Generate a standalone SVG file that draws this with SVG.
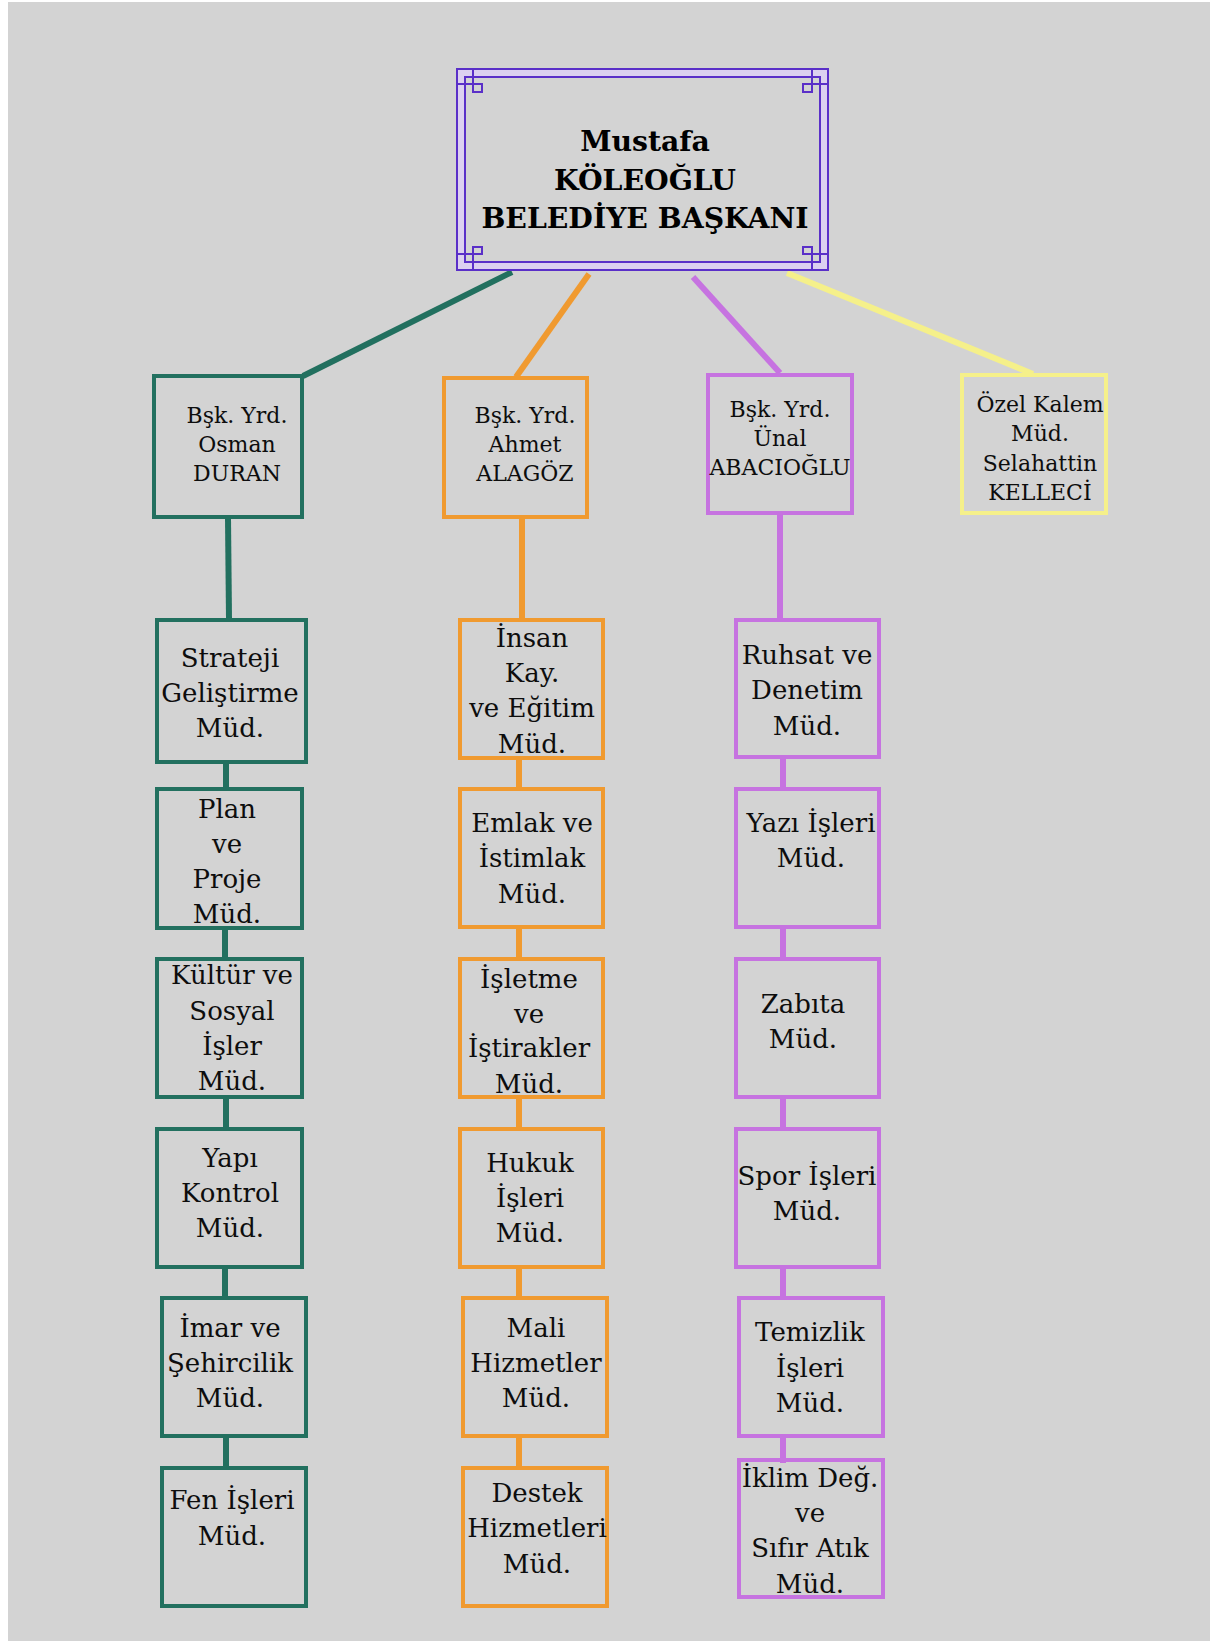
<svg xmlns="http://www.w3.org/2000/svg" width="1210" height="1641" viewBox="0 0 1210 1641">
<style>
text{font-family:"DejaVu Serif","Liberation Serif",serif;fill:#0d0d0d;text-anchor:middle}
.t{font-size:26px}
.v{font-size:22px}
.h{font-size:28.3px;font-weight:bold;fill:#000}
.bx{fill:none;stroke-width:4}
.teal{stroke:#22705f}
.or{stroke:#f09a30}
.pu{stroke:#c673e0}
.ye{stroke:#f5f08a}
.fr{fill:none;stroke:#5a2fc8;stroke-width:2}
.c{stroke-width:6;fill:none}
.c0{stroke-width:6;fill:none}
</style>
<rect x="0" y="0" width="1210" height="1641" fill="#ffffff"/>
<rect x="8" y="2" width="1202" height="1639" fill="#d3d3d3"/>

<g id="connectors">
<line class="c0 teal" x1="512" y1="272" x2="303" y2="376"/>
<line class="c0 or" x1="589" y1="274" x2="516" y2="377"/>
<line class="c0 pu" x1="693" y1="277" x2="780" y2="373"/>
<line class="c0 ye" x1="787" y1="273" x2="1033" y2="374"/>
<line class="c teal" x1="228" y1="518" x2="229" y2="619"/>
<line class="c teal" x1="226" y1="763" x2="226" y2="788"/>
<line class="c teal" x1="225" y1="929" x2="225" y2="958"/>
<line class="c teal" x1="226" y1="1098" x2="226" y2="1128"/>
<line class="c teal" x1="225" y1="1268" x2="225" y2="1297"/>
<line class="c teal" x1="226" y1="1437" x2="226" y2="1467"/>
<line class="c or" x1="522" y1="518" x2="522" y2="619"/>
<line class="c or" x1="519" y1="759" x2="519" y2="788"/>
<line class="c or" x1="519" y1="928" x2="519" y2="958"/>
<line class="c or" x1="519" y1="1098" x2="519" y2="1128"/>
<line class="c or" x1="519" y1="1268" x2="519" y2="1297"/>
<line class="c or" x1="519" y1="1437" x2="519" y2="1467"/>
<line class="c pu" x1="780" y1="515" x2="780" y2="619"/>
<line class="c pu" x1="783" y1="759" x2="783" y2="788"/>
<line class="c pu" x1="783" y1="929" x2="783" y2="958"/>
<line class="c pu" x1="783" y1="1098" x2="783" y2="1128"/>
<line class="c pu" x1="783" y1="1268" x2="783" y2="1297"/>
<line class="c pu" x1="783" y1="1437" x2="783" y2="1463"/>
</g>

<g id="baskan">
<rect x="457" y="69" width="371" height="201" fill="#dcd0f0" stroke="#5a2fc8" stroke-width="2"/>
<rect x="465" y="77" width="355" height="185" fill="#d3d3d3" stroke="#5a2fc8" stroke-width="2"/>
<path class="fr" d="M473 69V92M457 84H482M473 84H482V92H473Z"/>
<path class="fr" d="M812 69V92M828 84H803M812 84H803V92H812Z"/>
<path class="fr" d="M473 270V247M457 254H482M473 254H482V247H473Z"/>
<path class="fr" d="M812 270V247M828 254H803M812 254H803V247H812Z"/>
<text class="h" x="645" y="151">Mustafa</text>
<text class="h" x="645" y="190">KÖLEOĞLU</text>
<text class="h" x="645" y="228">BELEDİYE BAŞKANI</text>
</g>

<g id="osman">
<rect class="bx teal" x="154" y="376" width="148" height="141"/>
<text class="v" x="237" y="423">Bşk. Yrd.</text>
<text class="v" x="237" y="452">Osman</text>
<text class="v" x="237" y="481">DURAN</text>
</g>
<g id="ahmet">
<rect class="bx or" x="444" y="378" width="143" height="139"/>
<text class="v" x="525" y="423">Bşk. Yrd.</text>
<text class="v" x="525" y="452">Ahmet</text>
<text class="v" x="525" y="481">ALAGÖZ</text>
</g>
<g id="unal">
<rect class="bx pu" x="708" y="375" width="144" height="138"/>
<text class="v" x="780" y="417">Bşk. Yrd.</text>
<text class="v" x="780" y="446">Ünal</text>
<text class="v" x="780" y="475">ABACIOĞLU</text>
</g>
<g id="ozel">
<rect class="bx ye" x="962" y="375" width="144" height="138"/>
<text class="v" x="1040" y="412">Özel Kalem</text>
<text class="v" x="1040" y="441">Müd.</text>
<text class="v" x="1040" y="471">Selahattin</text>
<text class="v" x="1040" y="500">KELLECİ</text>
</g>

<g id="strateji">
<rect class="bx teal" x="157" y="620" width="149" height="142"/>
<text class="t" x="230" y="667">Strateji</text>
<text class="t" x="230" y="702">Geliştirme</text>
<text class="t" x="230" y="737">Müd.</text>
</g>
<g id="plan">
<rect class="bx teal" x="157" y="789" width="145" height="139"/>
<text class="t" x="227" y="818">Plan</text>
<text class="t" x="227" y="853">ve</text>
<text class="t" x="227" y="888">Proje</text>
<text class="t" x="227" y="923">Müd.</text>
</g>
<g id="kultur">
<rect class="bx teal" x="157" y="959" width="145" height="138"/>
<text class="t" x="232" y="984">Kültür ve</text>
<text class="t" x="232" y="1020">Sosyal</text>
<text class="t" x="232" y="1055">İşler</text>
<text class="t" x="232" y="1090">Müd.</text>
</g>
<g id="yapi">
<rect class="bx teal" x="157" y="1129" width="145" height="138"/>
<text class="t" x="230" y="1167">Yapı</text>
<text class="t" x="230" y="1202">Kontrol</text>
<text class="t" x="230" y="1237">Müd.</text>
</g>
<g id="imar">
<rect class="bx teal" x="162" y="1298" width="144" height="138"/>
<text class="t" x="230" y="1337">İmar ve</text>
<text class="t" x="230" y="1372">Şehircilik</text>
<text class="t" x="230" y="1407">Müd.</text>
</g>
<g id="fen">
<rect class="bx teal" x="162" y="1468" width="144" height="138"/>
<text class="t" x="232" y="1509">Fen İşleri</text>
<text class="t" x="232" y="1545">Müd.</text>
</g>

<g id="insan">
<rect class="bx or" x="460" y="620" width="143" height="138"/>
<text class="t" x="532" y="647">İnsan</text>
<text class="t" x="532" y="682">Kay.</text>
<text class="t" x="532" y="717">ve Eğitim</text>
<text class="t" x="532" y="753">Müd.</text>
</g>
<g id="emlak">
<rect class="bx or" x="460" y="789" width="143" height="138"/>
<text class="t" x="532" y="832">Emlak ve</text>
<text class="t" x="532" y="867">İstimlak</text>
<text class="t" x="532" y="903">Müd.</text>
</g>
<g id="isletme">
<rect class="bx or" x="460" y="959" width="143" height="138"/>
<text class="t" x="529" y="988">İşletme</text>
<text class="t" x="529" y="1023">ve</text>
<text class="t" x="529" y="1057">İştirakler</text>
<text class="t" x="529" y="1093">Müd.</text>
</g>
<g id="hukuk">
<rect class="bx or" x="460" y="1129" width="143" height="138"/>
<text class="t" x="530" y="1172">Hukuk</text>
<text class="t" x="530" y="1207">İşleri</text>
<text class="t" x="530" y="1242">Müd.</text>
</g>
<g id="mali">
<rect class="bx or" x="463" y="1298" width="144" height="138"/>
<text class="t" x="536" y="1337">Mali</text>
<text class="t" x="536" y="1372">Hizmetler</text>
<text class="t" x="536" y="1407">Müd.</text>
</g>
<g id="destek">
<rect class="bx or" x="463" y="1468" width="144" height="138"/>
<text class="t" x="537" y="1502">Destek</text>
<text class="t" x="537" y="1537">Hizmetleri</text>
<text class="t" x="537" y="1573">Müd.</text>
</g>

<g id="ruhsat">
<rect class="bx pu" x="736" y="620" width="143" height="137"/>
<text class="t" x="807" y="664">Ruhsat ve</text>
<text class="t" x="807" y="699">Denetim</text>
<text class="t" x="807" y="735">Müd.</text>
</g>
<g id="yazi">
<rect class="bx pu" x="736" y="789" width="143" height="138"/>
<text class="t" x="811" y="832">Yazı İşleri</text>
<text class="t" x="811" y="867">Müd.</text>
</g>
<g id="zabita">
<rect class="bx pu" x="736" y="959" width="143" height="138"/>
<text class="t" x="803" y="1013">Zabıta</text>
<text class="t" x="803" y="1048">Müd.</text>
</g>
<g id="spor">
<rect class="bx pu" x="736" y="1129" width="143" height="138"/>
<text class="t" x="807" y="1185">Spor İşleri</text>
<text class="t" x="807" y="1220">Müd.</text>
</g>
<g id="temizlik">
<rect class="bx pu" x="739" y="1298" width="144" height="138"/>
<text class="t" x="810" y="1341">Temizlik</text>
<text class="t" x="810" y="1377">İşleri</text>
<text class="t" x="810" y="1412">Müd.</text>
</g>
<g id="iklim">
<rect class="bx pu" x="739" y="1460" width="144" height="137"/>
<text class="t" x="810" y="1487">İklim Değ.</text>
<text class="t" x="810" y="1522">ve</text>
<text class="t" x="810" y="1557">Sıfır Atık</text>
<text class="t" x="810" y="1593">Müd.</text>
</g>
</svg>
